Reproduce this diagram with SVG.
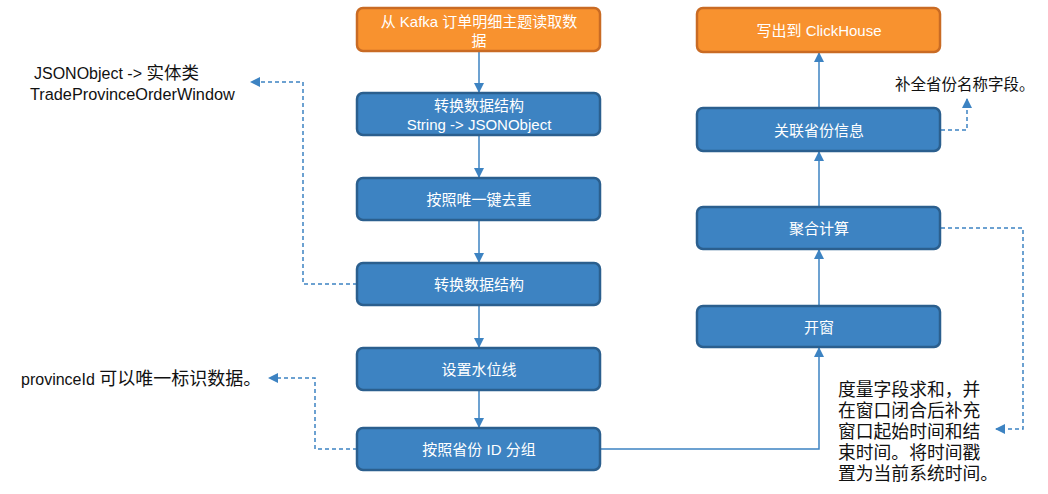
<svg xmlns="http://www.w3.org/2000/svg" width="1048" height="494" viewBox="0 0 1048 494">
<style>
.box{fill:#3d83c2;stroke:#2b5f8e;stroke-width:2.5}
.org{fill:#f8922f;stroke:#c96b24;stroke-width:2.5}
.lbl{font-family:"Liberation Sans","Noto Sans CJK SC",sans-serif;font-size:15px;fill:#ffffff;text-anchor:middle;dominant-baseline:central}
.note{font-family:"Liberation Sans","Noto Sans CJK SC",sans-serif;font-size:16px;fill:#111111}
.cjk{font-size:18px}
.line{fill:none;stroke:#3d83c2;stroke-width:1.5}
.dash{fill:none;stroke:#3d83c2;stroke-width:1.5;stroke-dasharray:4 3}
</style>
<defs>
<marker id="ah" markerWidth="10" markerHeight="10" refX="9" refY="5" orient="auto" markerUnits="userSpaceOnUse">
<path d="M0,0 L10,5 L0,10 z" fill="#3d83c2"/>
</marker>
</defs>
<g id="connectors">
<line class="line" x1="479" y1="52" x2="479" y2="92" marker-end="url(#ah)"/>
<line class="line" x1="479" y1="136" x2="479" y2="177" marker-end="url(#ah)"/>
<line class="line" x1="479" y1="221" x2="479" y2="262" marker-end="url(#ah)"/>
<line class="line" x1="479" y1="306" x2="479" y2="347" marker-end="url(#ah)"/>
<line class="line" x1="479" y1="391" x2="479" y2="427" marker-end="url(#ah)"/>
<polyline class="line" points="601,449 819,449 819,348" marker-end="url(#ah)"/>
<line class="line" x1="819" y1="305" x2="819" y2="250" marker-end="url(#ah)"/>
<line class="line" x1="819" y1="206" x2="819" y2="152" marker-end="url(#ah)"/>
<line class="line" x1="819" y1="107" x2="819" y2="53" marker-end="url(#ah)"/>
<polyline class="dash" points="357,284 303,284 303,82 251,82" marker-end="url(#ah)"/>
<polyline class="dash" points="357,449 315,449 315,378 269,378" marker-end="url(#ah)"/>
<polyline class="dash" points="941,130 967,130 967,99" marker-end="url(#ah)"/>
<polyline class="dash" points="941,228 1023,228 1023,429 996,429" marker-end="url(#ah)"/>
</g>
<g id="n1"><rect class="org" x="357" y="8" width="243" height="43" rx="6"/><text class="lbl" x="479" y="21">从 Kafka 订单明细主题读取数</text><text class="lbl" x="479" y="40">据</text></g>
<g id="n2"><rect class="box" x="357" y="93" width="243" height="42" rx="6"/><text class="lbl" x="479" y="105">转换数据结构</text><text class="lbl" x="479" y="124">String -&gt; JSONObject</text></g>
<g id="n3"><rect class="box" x="357" y="178" width="243" height="42" rx="6"/><text class="lbl" x="479" y="199">按照唯一键去重</text></g>
<g id="n4"><rect class="box" x="357" y="263" width="243" height="42" rx="6"/><text class="lbl" x="479" y="284">转换数据结构</text></g>
<g id="n5"><rect class="box" x="357" y="348" width="243" height="42" rx="6"/><text class="lbl" x="479" y="369">设置水位线</text></g>
<g id="n6"><rect class="box" x="357" y="428" width="243" height="42" rx="6"/><text class="lbl" x="479" y="449">按照省份 ID 分组</text></g>
<g id="n7"><rect class="org" x="697" y="8" width="243" height="44" rx="6"/><text class="lbl" x="819" y="30">写出到 ClickHouse</text></g>
<g id="n8"><rect class="box" x="697" y="108" width="243" height="43" rx="6"/><text class="lbl" x="819" y="130">关联省份信息</text></g>
<g id="n9"><rect class="box" x="697" y="207" width="243" height="42" rx="6"/><text class="lbl" x="819" y="228">聚合计算</text></g>
<g id="n10"><rect class="box" x="697" y="306" width="243" height="41" rx="6"/><text class="lbl" x="819" y="327">开窗</text></g>
<g id="notes">
<text class="note" x="34" y="79">JSONObject -&gt; <tspan class="cjk" style="font-size:17.5px">实体类</tspan></text>
<text class="note" x="30" y="100" style="font-size:16.3px">TradeProvinceOrderWindow</text>
<text class="note" x="21" y="385">provinceId <tspan class="cjk">可以唯一标识数据。</tspan></text>
<text class="note" x="895" y="90" style="font-size:15.5px">补全省份名称字段。</text>
<g class="note" style="font-size:17.8px">
<text x="838" y="396">度量字段求和，并</text>
<text x="838" y="417">在窗口闭合后补充</text>
<text x="838" y="438">窗口起始时间和结</text>
<text x="838" y="459">束时间。将时间戳</text>
<text x="838" y="480">置为当前系统时间。</text>
</g>
</g>
</svg>
